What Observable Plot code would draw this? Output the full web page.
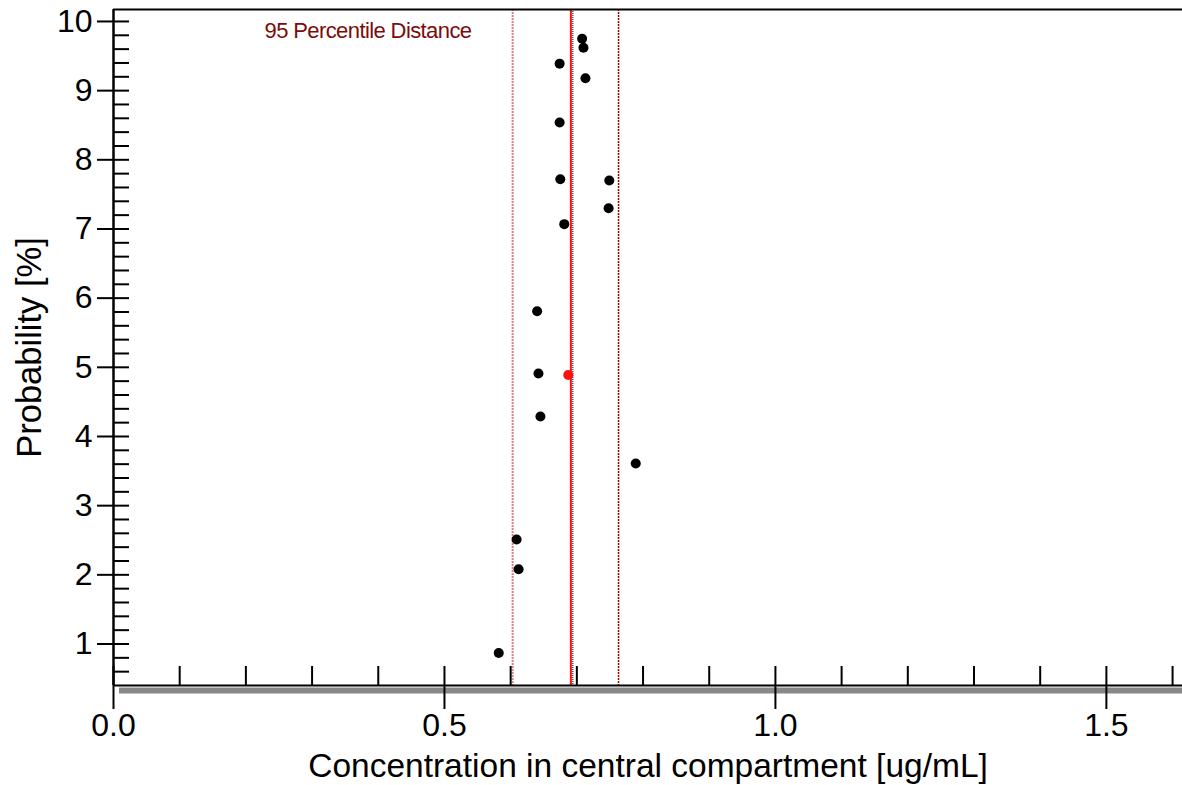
<!DOCTYPE html>
<html>
<head>
<meta charset="utf-8">
<script src="https://cdn.jsdelivr.net/npm/d3@7"></script>
<script src="https://cdn.jsdelivr.net/npm/@observablehq/plot@0.6"></script>
<style>
  html, body { margin: 0; padding: 0; background: #fff; }
  #chart svg { display: block; }
</style>
</head>
<body>
<div id="chart"></div>
<script>
// ---- data ----
const concentration = [0.708, 0.710, 0.674, 0.713, 0.674, 0.675, 0.749, 0.748, 0.681,
                       0.640, 0.642, 0.645, 0.789, 0.609, 0.612, 0.582];
const probability   = [9.75, 9.62, 9.39, 9.18, 8.54, 7.72, 7.70, 7.30, 7.07,
                       5.81, 4.91, 4.29, 3.61, 2.51, 2.08, 0.87];
const selectedConcentration = [0.687];
const selectedProbability = [4.89];

const percentileLower = 0.603;
const percentileMedian = 0.691;
const referenceValue = 0.694;
const percentileUpper = 0.763;
const percentileLabel = "95 Percentile Distance";

const xMajorTicks = [0.0, 0.5, 1.0, 1.5];
const xMinorTicks = [0.1, 0.2, 0.3, 0.4, 0.6, 0.7, 0.8, 0.9, 1.1, 1.2, 1.3, 1.4, 1.6];
const yMajorTicks = [1, 2, 3, 4, 5, 6, 7, 8, 9, 10];
const yMinorTicks = [0.6, 0.8, 1.2, 1.4, 1.6, 1.8, 2.2, 2.4, 2.6, 2.8, 3.2, 3.4, 3.6, 3.8,
                     4.2, 4.4, 4.6, 4.8, 5.2, 5.4, 5.6, 5.8, 6.2, 6.4, 6.6, 6.8, 7.2, 7.4, 7.6, 7.8,
                     8.2, 8.4, 8.6, 8.8, 9.2, 9.4, 9.6, 9.8];
const xDomain = [0, 1.615];
const yDomain = [0.4, 10.173];
const xTitle = "Concentration in central compartment [ug/mL]";
const yTitle = "Probability [%]";

const points = concentration.map((c, i) => ({c, p: probability[i]}));
const selected = selectedConcentration.map((c, i) => ({c, p: selectedProbability[i]}));

const W = 1182, H = 785;
const mL = 113, mR = 0, mT = 9, mB = 100;
const frameW = W - mL - mR, frameH = H - mT - mB;
const font = "'Liberation Sans', Arial, Helvetica, sans-serif";

const plot = Plot.plot({
  width: W,
  height: H,
  marginLeft: mL,
  marginRight: mR,
  marginTop: mT,
  marginBottom: mB,
  style: {fontFamily: font, color: "#000", background: "#fff", overflow: "visible"},
  x: {domain: xDomain},
  y: {domain: yDomain},
  marks: [
    // gray shadow bar under x axis
    Plot.ruleY([yDomain[0]], {stroke: "#888888", strokeWidth: 6, dy: 5, insetLeft: 6}),
    // percentile lines
    Plot.ruleX([percentileLower], {stroke: "#e07f7f", strokeWidth: 2, strokeDasharray: "2 1"}),
    Plot.ruleX([percentileMedian], {stroke: "#ff1010", strokeWidth: 2}),
    Plot.ruleX([referenceValue], {stroke: "#000", strokeWidth: 1, strokeDasharray: "1 1"}),
    Plot.ruleX([percentileUpper], {stroke: "#a00000", strokeWidth: 1.5, strokeDasharray: "2 1"}),
    // frame lines
    Plot.ruleY([yDomain[1]], {stroke: "#000", strokeWidth: 2}),
    Plot.ruleY([yDomain[0]], {stroke: "#000", strokeWidth: 2}),
    Plot.ruleX([xDomain[0]], {stroke: "#000", strokeWidth: 2.5}),
    // inner ticks
    Plot.tickY(yMajorTicks.concat(yMinorTicks), {stroke: "#000", strokeWidth: 2, insetRight: frameW - 16}),
    Plot.tickX(xMajorTicks.concat(xMinorTicks), {stroke: "#000", strokeWidth: 2, insetTop: frameH - 19}),
    // axes (outer ticks + labels)
    Plot.axisY(yMajorTicks, {anchor: "left", tickSize: 16, tickPadding: 5, fontSize: 32, strokeWidth: 2,
      tickFormat: d3.format("d"), label: null}),
    Plot.axisY([], {anchor: "left", tickSize: 0, fontSize: 34.5,
      label: yTitle, labelAnchor: "center", labelOffset: 97, labelArrow: "none"}),
    Plot.axisX(xMajorTicks, {anchor: "bottom", tickSize: 24, tickPadding: 4, fontSize: 32, strokeWidth: 2,
      tickFormat: d3.format(".1f"), label: null}),
    Plot.axisX([], {anchor: "bottom", tickSize: 0, fontSize: 33.5,
      label: xTitle, labelAnchor: "center", labelOffset: 91, labelArrow: "none"}),
    // percentile label
    Plot.text([percentileLabel], {frameAnchor: "top-left", dx: 151, dy: 13, textAnchor: "start",
      fill: "#7a0c0c", fontSize: 22}),
    // points
    Plot.dot(points, {x: "c", y: "p", r: 5, fill: "#000", stroke: null}),
    Plot.dot(selected, {x: "c", y: "p", r: 5, fill: "#ff1010", stroke: null})
  ]
});

document.getElementById("chart").appendChild(plot);

// typographic adjustments
d3.select(plot).selectAll("text").each(function() {
  const t = d3.select(this);
  if (t.text() === percentileLabel) t.attr("letter-spacing", "-0.6px");
});
</script>
</body>
</html>
